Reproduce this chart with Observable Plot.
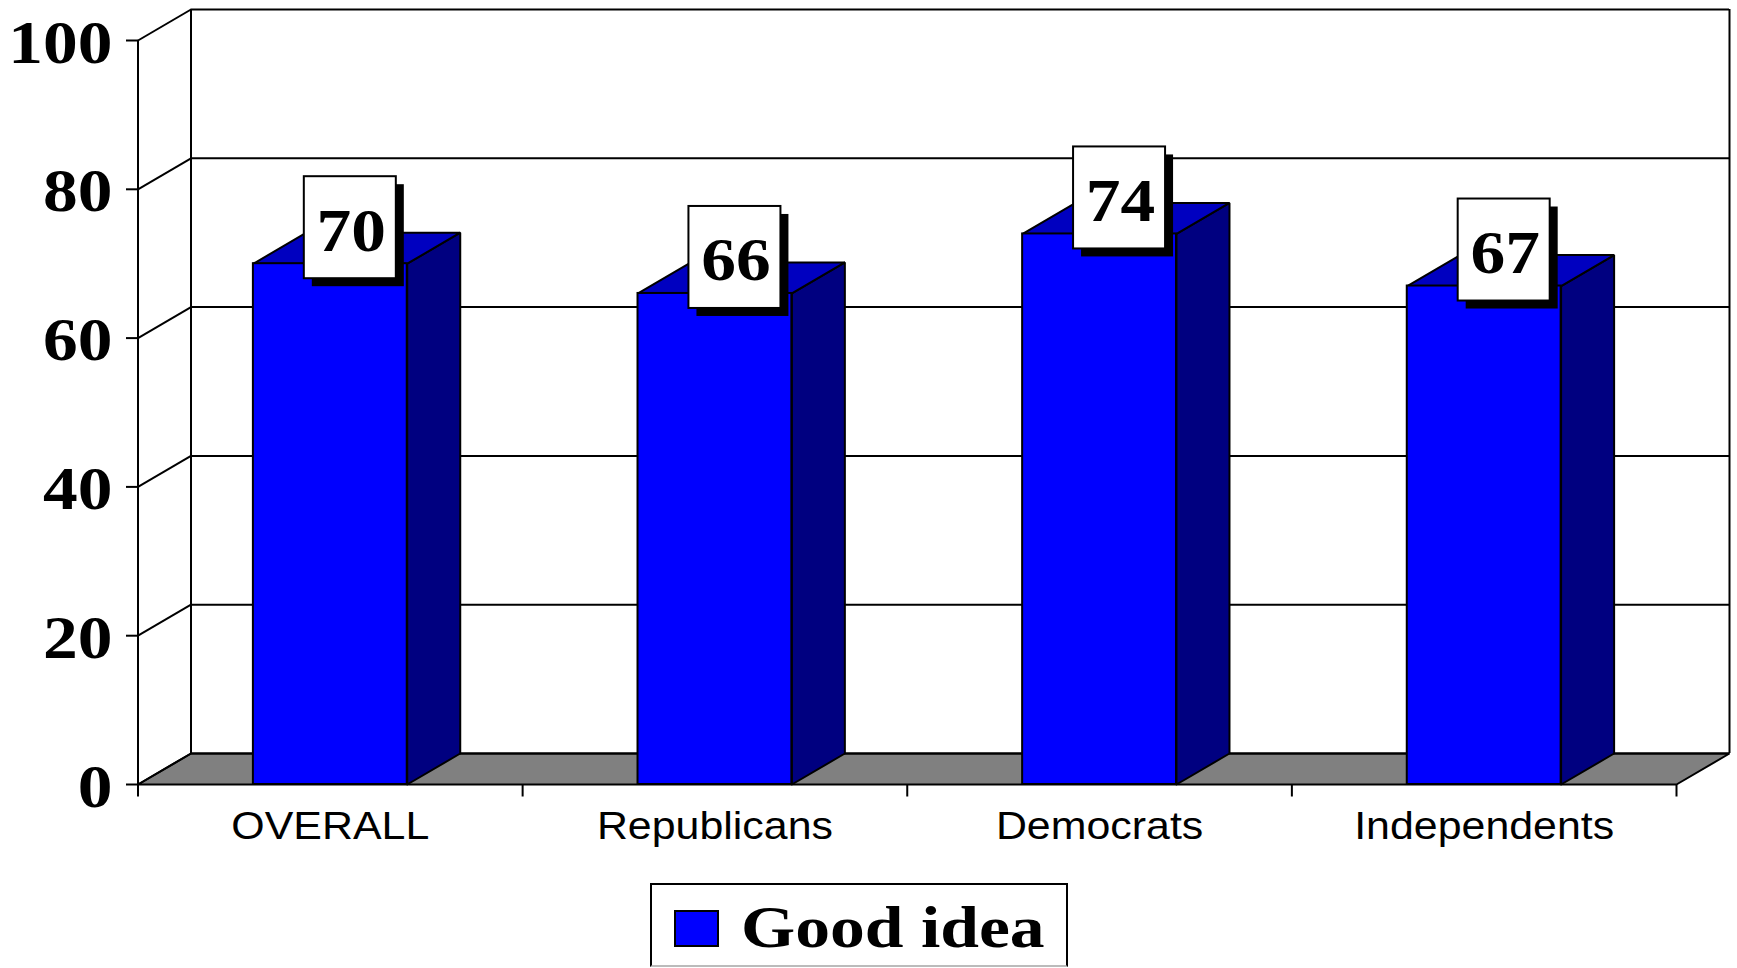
<!DOCTYPE html>
<html><head><meta charset="utf-8">
<script src="https://cdn.jsdelivr.net/npm/d3@7"></script>
<script src="https://cdn.jsdelivr.net/npm/@observablehq/plot@0.6"></script>
<style>
html,body{margin:0;padding:0;background:#fff;overflow:hidden;}
#wrap{position:relative;width:1737px;height:968px;}
#wrap svg{display:block;}
#legend{position:absolute;left:650px;top:883px;width:414px;height:80px;border:2px solid #000;border-bottom-color:#bbb;background:#fff;}
#legend .sw{position:absolute;left:22px;top:25px;width:41px;height:33px;background:#0000ff;border:2px solid #000;}
#legend .lb{position:absolute;left:89px;top:13px;font-family:"Liberation Serif";font-weight:bold;font-size:59px;line-height:1;white-space:nowrap;transform:scaleX(1.18);transform-origin:0 0;}
</style>
</head><body>
<div id="wrap"></div>
<script>
const categories = ["OVERALL", "Republicans", "Democrats", "Independents"];
const values = [70, 66, 74, 67];
const yTicks = [0, 20, 40, 60, 80, 100];
const seriesName = "Good idea";

const W = 1737, H = 880, mL = 137.5, mR = 61, mT = 40, mB = 96;
const n = categories.length;
const pxX = (W - mL - mR) / n, pxY = (H - mT - mB) / 100;
const DX = 53 / pxX, DY = 31 / pxY;

const bars = categories.map((c, i) => ({c, i, v: values[i], x1: i + 0.3, x2: i + 0.7}));
function poly(id, pts) { return pts.concat([pts[0]]).map(([x, y]) => ({id, x, y})); }
const floor = poly("floor", [[0, 0], [n, 0], [n + DX, DY], [DX, DY]]);
const sides = bars.flatMap(b => poly(b.c, [[b.x2, 0], [b.x2, b.v], [b.x2 + DX, b.v + DY], [b.x2 + DX, DY]]));
const tops = bars.flatMap(b => poly(b.c, [[b.x1, b.v], [b.x2, b.v], [b.x2 + DX, b.v + DY], [b.x1 + DX, b.v + DY]]));
const sw = 2;

const chart = Plot.plot({
  width: W, height: H,
  marginLeft: mL, marginRight: mR, marginTop: mT, marginBottom: mB,
  x: {type: "linear", domain: [0, n], axis: null},
  y: {domain: [0, 100], axis: null},
  style: {background: "white"},
  marks: [
    Plot.line(floor, {x: "x", y: "y", z: "id", fill: "#808080", stroke: "black", strokeWidth: sw, strokeLinejoin: "miter"}),
    Plot.ruleY(yTicks, {y: t => t + DY, x1: DX, x2: n + DX, stroke: "black", strokeWidth: sw}),
    Plot.link(yTicks, {x1: 0, y1: t => t, x2: DX, y2: t => t + DY, stroke: "black", strokeWidth: sw}),
    Plot.ruleX([DX, n + DX], {x: d => d, y1: DY, y2: 100 + DY, stroke: "black", strokeWidth: sw}),
    Plot.ruleX([0], {x: d => d, y1: 0, y2: 100, stroke: "black", strokeWidth: sw}),
    Plot.line(sides, {x: "x", y: "y", z: "id", fill: "#000080", stroke: "black", strokeWidth: sw, strokeLinejoin: "miter"}),
    Plot.line(tops, {x: "x", y: "y", z: "id", fill: "#0000C0", stroke: "black", strokeWidth: sw, strokeLinejoin: "miter"}),
    Plot.rect(bars, {x1: "x1", x2: "x2", y1: 0, y2: "v", fill: "#0000FF", stroke: "black", strokeWidth: sw}),
    // data label boxes (shadow + box)
    Plot.rect(bars, {x1: b => b.i + 0.5 - 26 / pxX, x2: b => b.i + 0.5 + 66 / pxX, y1: b => b.v - 15 / pxY, y2: b => b.v + 87 / pxY, dx: 8, dy: 8, fill: "black"}),
    Plot.rect(bars, {x1: b => b.i + 0.5 - 26 / pxX, x2: b => b.i + 0.5 + 66 / pxX, y1: b => b.v - 15 / pxY, y2: b => b.v + 87 / pxY, fill: "white", stroke: "black", strokeWidth: sw}),
    Plot.text(bars, {x: b => b.i + 0.5, y: "v", text: b => String(b.v), dx: 21, dy: -13, lineAnchor: "bottom", fontSize: 62, fontWeight: "bold", fontFamily: "Liberation Serif", fill: "black"}),
    // ticks
    Plot.link(yTicks, {x1: -12 / pxX, x2: 0, y1: t => t, y2: t => t, stroke: "black", strokeWidth: sw}),
    Plot.link(d3.range(n + 1), {x1: d => d, x2: d => d, y1: 0, y2: -12 / pxY, stroke: "black", strokeWidth: sw}),
    // tick labels
    Plot.text(yTicks, {x: 0, y: t => t, text: t => String(t), textAnchor: "end", dx: -25.5, dy: 22, lineAnchor: "bottom", fontSize: 62, fontWeight: "bold", fontFamily: "Liberation Serif", fill: "black"}),
    Plot.text(bars, {x: b => b.i + 0.5, y: 0, text: "c", dy: 54, lineAnchor: "bottom", fontSize: 39, fontFamily: "Liberation Sans", fill: "black"})
  ]
});

const wrap = document.getElementById("wrap");
wrap.appendChild(chart);
chart.querySelectorAll("text").forEach(t => {
  const fam = getComputedStyle(t).fontFamily;
  const f = /Serif/.test(fam) ? 1.12 : 1.1;
  const w = t.getComputedTextLength();
  t.setAttribute("textLength", w * f);
  t.setAttribute("lengthAdjust", "spacingAndGlyphs");
});

const legend = document.createElement("div");
legend.id = "legend";
legend.innerHTML = `<div class="sw"></div><div class="lb"></div>`;
legend.querySelector(".lb").textContent = seriesName;
wrap.appendChild(legend);
</script>
</body></html>
